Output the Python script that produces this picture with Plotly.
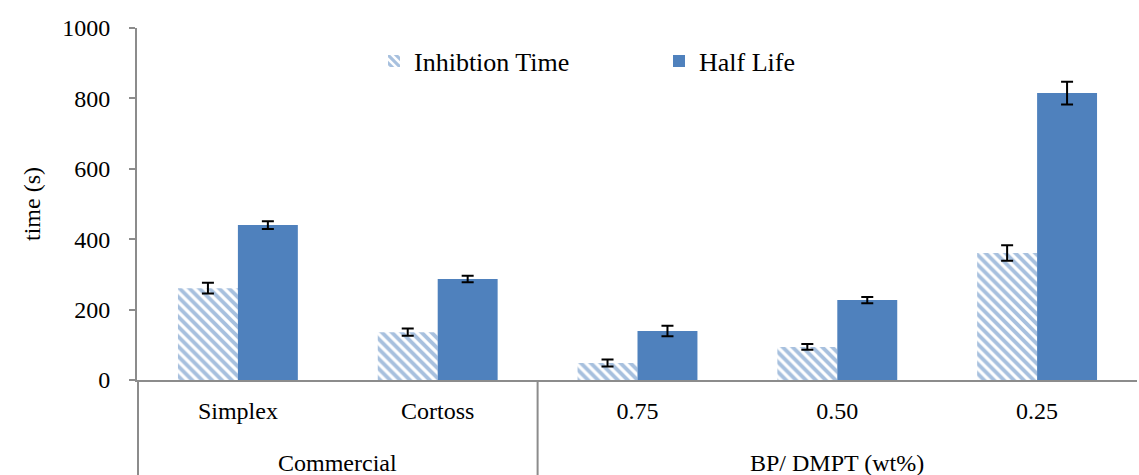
import plotly.graph_objects as go

groups = ["Commercial", "BP/ DMPT (wt%)"]
group_members = [["Simplex", "Cortoss"], ["0.75", "0.50", "0.25"]]
categories = ["Simplex", "Cortoss", "0.75", "0.50", "0.25"]
inhibition_time = [261, 136, 48, 94, 361]
inhibition_err = [15, 10, 10, 8, 22]
half_life = [440, 287, 139, 227, 815]
half_life_err = [11, 9, 15, 9, 32]
y_ticks = [0, 200, 400, 600, 800, 1000]

blue = "#4F81BD"
axis_grey = "#8c8c8c"
ff = "Liberation Serif, Times New Roman, serif"

fig = go.Figure()
fig.add_trace(go.Bar(
    x=categories, y=inhibition_time, name="Inhibtion Time",
    marker=dict(color="white", line=dict(width=0),
                pattern=dict(shape="\\", fgcolor=blue, bgcolor="white", size=7, solidity=0.55)),
    error_y=dict(type="data", array=inhibition_err, color="black", thickness=2, width=6),
))
fig.add_trace(go.Bar(
    x=categories, y=half_life, name="Half Life",
    marker=dict(color=blue, line=dict(width=0)),
    error_y=dict(type="data", array=half_life_err, color="black", thickness=2, width=6),
))

# group labels and dividers below the category axis
start = 0
for name, members in zip(groups, group_members):
    mid = start + (len(members) - 1) / 2
    fig.add_annotation(x=mid, xref="x", y=-0.236, yref="paper", text=name,
                       showarrow=False, yanchor="middle",
                       font=dict(family=ff, size=24, color="black"))
    fig.add_shape(type="line", xref="x", yref="paper", x0=start - 0.5, x1=start - 0.5,
                  y0=0, y1=-0.3, line=dict(color=axis_grey, width=2))
    start += len(members)

fig.update_layout(
    width=1139, height=475,
    margin=dict(l=137, r=2, t=28, b=95),
    paper_bgcolor="white", plot_bgcolor="white",
    font=dict(family=ff, size=24, color="black"),
    barmode="group", bargap=0.4, bargroupgap=0,
    showlegend=True,
    legend=dict(orientation="h", x=0.237, xanchor="left", y=0.906, yanchor="middle",
                entrywidth=240, entrywidthmode="pixels", itemwidth=30,
                font=dict(family=ff, size=26, color="black"),
                bgcolor="rgba(0,0,0,0)"),
)
fig.update_xaxes(
    type="category", showline=True, linecolor=axis_grey, linewidth=2,
    ticks="", showgrid=False, tickfont=dict(family=ff, size=24),
    ticklabelstandoff=8,
)
fig.update_yaxes(
    range=[0, 1000], tickvals=y_ticks, showline=True, linecolor=axis_grey, linewidth=2,
    ticks="outside", ticklen=6, tickcolor=axis_grey, tickwidth=2, showgrid=False,
    zeroline=False, ticklabelstandoff=14,
    title=dict(text="time (s)", font=dict(family=ff, size=24), standoff=15),
    tickfont=dict(family=ff, size=24),
)
fig.write_html("out.html")
